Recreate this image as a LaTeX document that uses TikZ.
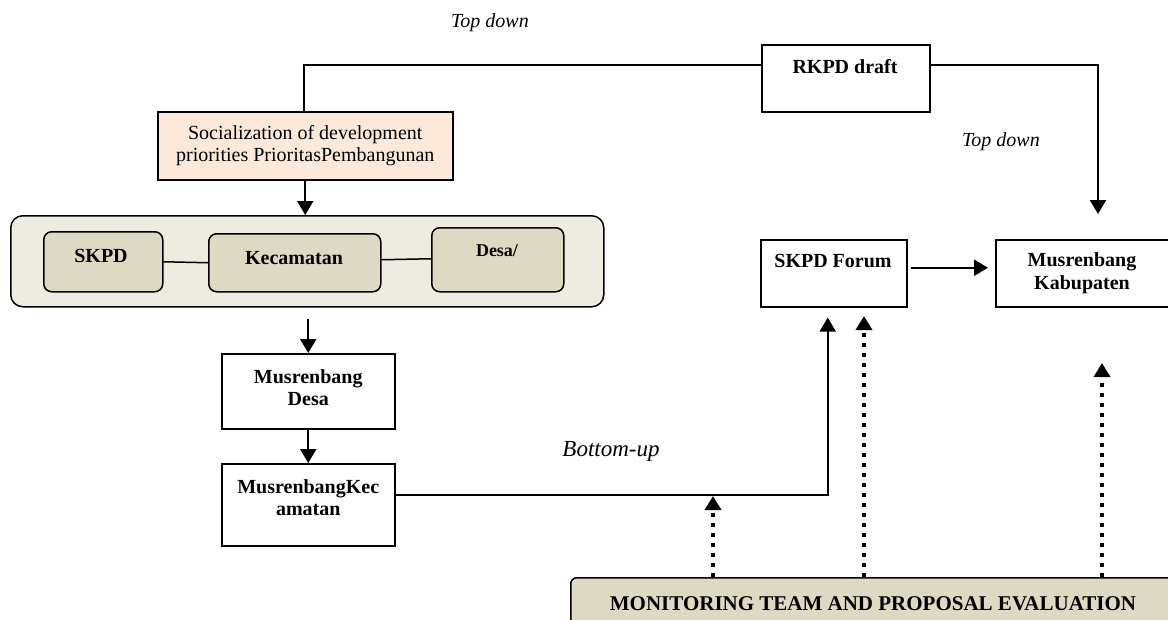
\documentclass[tikz,border=0pt]{standalone}
\usepackage{fontspec}
\setmainfont{Liberation Serif}
\usetikzlibrary{arrows.meta}
\definecolor{peach}{HTML}{FDE9D9}
\definecolor{paleolive}{HTML}{EEECE1}
\definecolor{olivegrey}{HTML}{DDD9C3}
\tikzset{
  box/.style={draw, line width=1.5pt, inner sep=0pt, anchor=north west},
  roundbox/.style={box, rounded corners=8pt, fill=olivegrey},
  lbl/.style={font=\fontsize{20}{22}\selectfont\bfseries, align=center, inner sep=0pt},
  note/.style={font=\fontsize{20}{22}\selectfont\itshape, inner sep=0pt},
  link/.style={line width=1.5pt},
  tip/.style={-{Triangle[width=16pt,length=14pt]}},
  arr/.style={line width=2pt, tip},
  dotarr/.style={line width=4pt, dash pattern=on 4pt off 6pt, tip},
}
\begin{document}
\begin{tikzpicture}[x=1pt, y=-1pt]
\clip (0,0) rectangle (1168,619);
\fill[white] (0,0) rectangle (1168,619);

% left column
\node[box, fill=peach, minimum width=295pt, minimum height=68pt] (soc) at (157,111) {};
\node[font=\fontsize{20}{21.5}\selectfont, align=center, inner sep=0pt] at (soc.center)
  {Socialization of development\\priorities PrioritasPembangunan};

\node[box, fill=paleolive, rounded corners=12pt, minimum width=593pt, minimum height=91pt] (outer) at (10,215) {};
\node[roundbox, minimum width=119pt, minimum height=60pt] (skpd) at (43,231) {};
\node[lbl] at (101,256) {SKPD};
\node[roundbox, minimum width=172pt, minimum height=58pt] (kec) at (208,233) {};
\node[lbl] at (294,258) {Kecamatan};
\node[roundbox, minimum width=132pt, minimum height=64pt] (desa) at (431,227) {};
\node[lbl, font=\fontsize{18}{20}\selectfont\bfseries] at (497,251) {Desa/};

\node[box, minimum width=173pt, minimum height=75pt] (mdesa) at (221,353) {};
\node[lbl] at (mdesa.center |- 0,388) {Musrenbang\\Desa};
\node[box, minimum width=173pt, minimum height=82pt] (mkec) at (221,463) {};
\node[lbl] at (mkec.center |- 0,498) {MusrenbangKec\\amatan};

% right column
\node[box, minimum width=168pt, minimum height=67pt] (rkpd) at (761,44) {};
\node[lbl] at (845,67) {RKPD draft};
\node[box, minimum width=146pt, minimum height=67pt] (forum) at (760,239) {};
\node[lbl] at (833,261) {SKPD Forum};
\node[box, minimum width=175pt, minimum height=67pt] (kab) at (995,239) {};
\node[lbl, font=\fontsize{20}{23}\selectfont\bfseries] at (1082,273) {Musrenbang\\Kabupaten};

\node[box, fill=olivegrey, rounded corners=6pt, minimum width=610pt, minimum height=60pt] (mon) at (570,577) {};
\node[lbl, font=\fontsize{21}{24}\selectfont\bfseries] at (873,604) {MONITORING TEAM AND PROPOSAL EVALUATION};

% flow labels
\node[note] at (490,23) {Top down};
\node[note] at (1001,142) {Top down};
\node[note, font=\fontsize{23}{26}\selectfont\itshape] at (611,451) {Bottom-up};

% top-down flow
\coordinate (tdend) at (1098,214);
\draw[link] ([xshift=-1.5pt]soc.north) |- ([yshift=13.5pt]rkpd.west);
\draw[arr] ([yshift=13.5pt]rkpd.east) -| (tdend);
\draw[arr] (soc.south) -- (soc.south |- outer.north);
\draw[link] (skpd.east) -- (kec.west);
\draw[link] ([yshift=3pt]kec.east) -- ([yshift=1pt]desa.west);
\draw[arr] ([yshift=-11pt]outer.south -| mdesa.north) -- (mdesa.north);
\draw[arr] (mdesa.south) -- (mkec.north);

% bottom-up flow
\draw[link, tip] ([yshift=10pt]mkec.east) -| ([xshift=-6pt,yshift=-10pt]forum.south);
\draw[arr, shorten <=3pt, shorten >=7pt] ([yshift=5.5pt]forum.east) -- ([yshift=5.5pt]kab.west);

% evaluation team inputs
\coordinate (e1) at (713,496);
\coordinate (e2) at (864,316);
\coordinate (e3) at (1102,363);
\draw[dotarr] (mon.north -| e1) -- (e1);
\draw[dotarr] (mon.north -| e2) -- (e2);
\draw[dotarr] (mon.north -| e3) -- (e3);
\end{tikzpicture}
\end{document}
